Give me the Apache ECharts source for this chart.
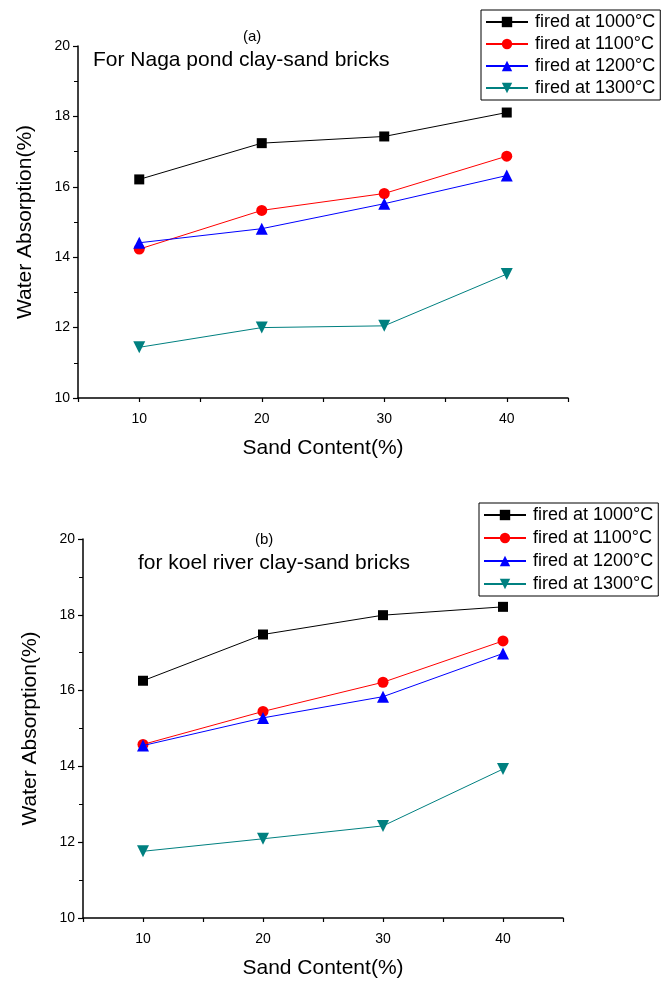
<!DOCTYPE html>
<html>
<head>
<meta charset="utf-8">
<script src="https://cdn.jsdelivr.net/npm/echarts@6/dist/echarts.min.js"></script>
<style>
  html, body { margin: 0; padding: 0; background: #fff; }
  #chart { width: 668px; height: 981px; }
</style>
</head>
<body>
<div id="chart"></div>
<script>
// sand content (%)
const sand = [10, 20, 30, 40];
const seriesNames = ['fired at 1000°C', 'fired at 1100°C', 'fired at 1200°C', 'fired at 1300°C'];

// (a) Naga pond clay-sand bricks
const naga1000 = [16.21, 17.24, 17.43, 18.11];
const naga1100 = [14.23, 15.33, 15.81, 16.87];
const naga1200 = [14.41, 14.81, 15.52, 16.32];
const naga1300 = [11.44, 12.0, 12.05, 13.52];

// (b) koel river clay-sand bricks
const koel1000 = [16.26, 17.48, 17.99, 18.21];
const koel1100 = [14.58, 15.45, 16.22, 17.31];
const koel1200 = [14.55, 15.28, 15.84, 16.98];
const koel1300 = [11.76, 12.09, 12.43, 13.93];

const colors = ['#000000', '#ff0000', '#0000ff', '#008080'];
const symbols = ['rect', 'circle', 'triangle', 'path://M0,0 L10,0 L5,9 Z'];
const symbolSizes = [10, 11, 12, 12];

const font = 'Liberation Sans, Arial, sans-serif';

function pairs(vals) {
  return sand.map((s, i) => [s, vals[i]]);
}

function makeSeries(vals, idx, axisIdx) {
  return {
    name: seriesNames[idx],
    type: 'line',
    xAxisIndex: axisIdx,
    yAxisIndex: axisIdx,
    data: pairs(vals),
    symbol: symbols[idx],
    symbolSize: symbolSizes[idx],
    itemStyle: { color: colors[idx] },
    lineStyle: { color: colors[idx], width: 1 },
    z: 2 + idx
  };
}

function xAx(gridIdx) {
  return {
    type: 'value',
    gridIndex: gridIdx,
    min: 5,
    max: 45,
    interval: 5,
    name: 'Sand Content(%)',
    nameLocation: 'middle',
    nameGap: 40,
    nameTextStyle: { fontFamily: font, fontSize: 21, color: '#000' },
    axisLine: { lineStyle: { color: '#000', width: 1.5 } },
    axisTick: { length: 4, lineStyle: { color: '#000', width: 1.2 } },
    axisLabel: {
      fontFamily: font, fontSize: 14, color: '#000', margin: 14,
      formatter: v => (v % 10 === 0 ? String(v) : '')
    },
    splitLine: { show: false }
  };
}

function yAx(gridIdx) {
  return {
    type: 'value',
    gridIndex: gridIdx,
    min: 10,
    max: 20,
    interval: 2,
    name: 'Water Absorption(%)',
    nameLocation: 'middle',
    nameGap: 42,
    nameTextStyle: { fontFamily: font, fontSize: 21, color: '#000' },
    axisLine: { show: true, lineStyle: { color: '#000', width: 1.5 } },
    axisTick: { show: true, length: 5, lineStyle: { color: '#000', width: 1.2 } },
    minorTick: { show: true, splitNumber: 2, length: 4, lineStyle: { color: '#000', width: 1 } },
    axisLabel: { fontFamily: font, fontSize: 14, color: '#000', margin: 8 },
    splitLine: { show: false }
  };
}

function legend(left, top, gap) {
  return {
    orient: 'vertical',
    left: left,
    top: top,
    data: seriesNames,
    itemWidth: 42,
    itemHeight: 13,
    itemGap: gap,
    padding: [3, 5, 3, 4],
    borderColor: '#000',
    borderWidth: 1,
    backgroundColor: '#fff',
    selectedMode: false,
    textStyle: { fontFamily: font, fontSize: 18, lineHeight: 17, color: '#000', padding: [0, 0, 0, 2] }
  };
}

const chart = echarts.init(document.getElementById('chart'));
const option = {
  backgroundColor: '#fff',
  animation: false,
  title: [
    { text: '(a)', left: 238, top: 24, textStyle: { fontFamily: font, fontSize: 15, fontWeight: 'normal', color: '#000' } },
    { text: 'For Naga pond clay-sand bricks', left: 88, top: 45, textStyle: { fontFamily: font, fontSize: 21, fontWeight: 'normal', color: '#000' } },
    { text: '(b)', left: 250, top: 527, textStyle: { fontFamily: font, fontSize: 15, fontWeight: 'normal', color: '#000' } },
    { text: 'for koel river clay-sand bricks', left: 133, top: 548, textStyle: { fontFamily: font, fontSize: 21, fontWeight: 'normal', color: '#000' } }
  ],
  legend: [legend(481, 10, 4), legend(479, 503, 5)],
  grid: [
    { left: 78, right: 100, top: 46, height: 352 },
    { left: 83, right: 105, top: 539, height: 379 }
  ],
  xAxis: [xAx(0), xAx(1)],
  yAxis: [yAx(0), yAx(1)],
  series: [
    makeSeries(naga1000, 0, 0),
    makeSeries(naga1100, 1, 0),
    makeSeries(naga1200, 2, 0),
    makeSeries(naga1300, 3, 0),
    makeSeries(koel1000, 0, 1),
    makeSeries(koel1100, 1, 1),
    makeSeries(koel1200, 2, 1),
    makeSeries(koel1300, 3, 1)
  ]
};
chart.setOption(option);
</script>
</body>
</html>
